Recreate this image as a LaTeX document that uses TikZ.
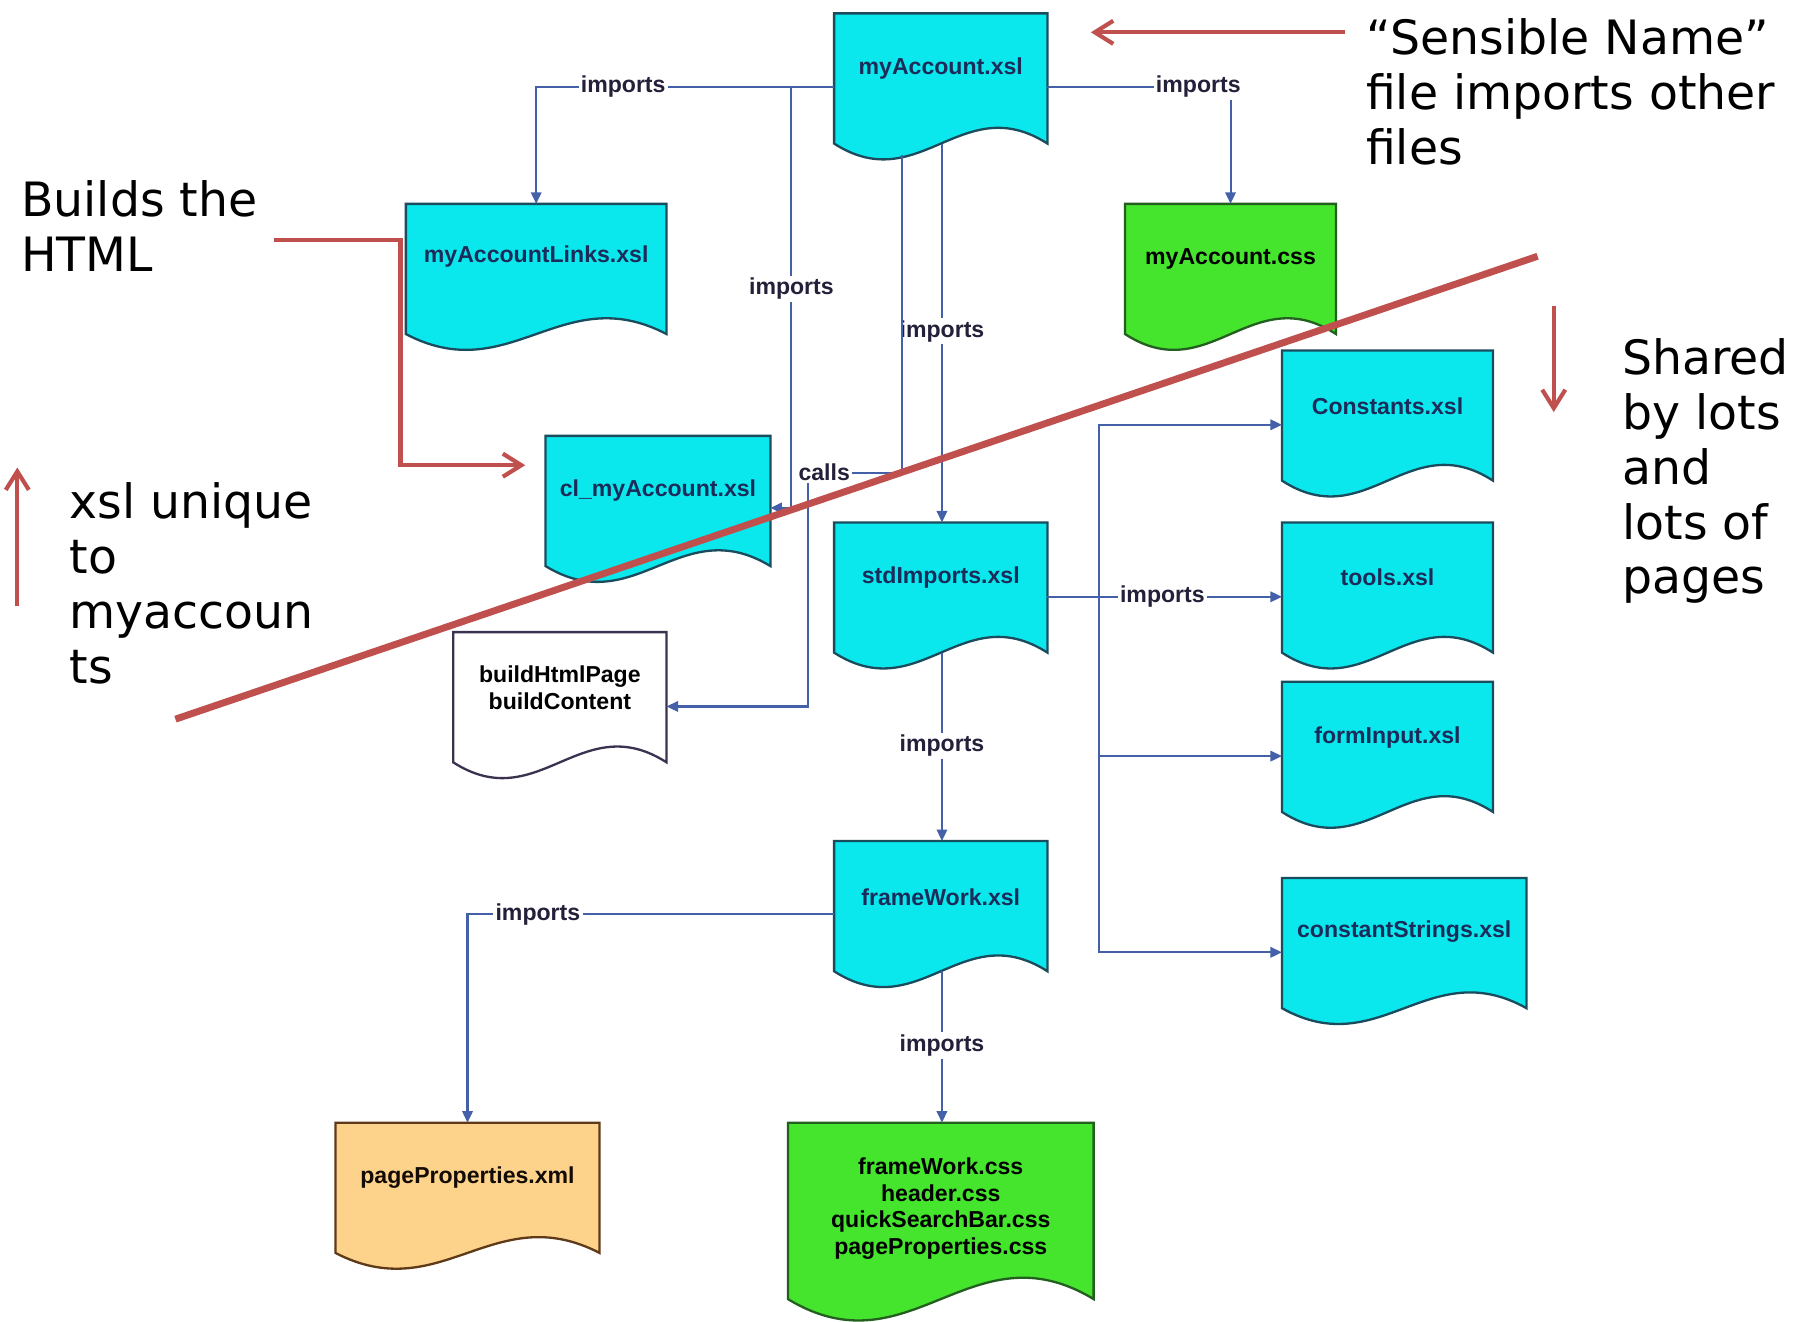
\documentclass[tikz,border=0pt]{standalone}
\usepackage{fontspec}
\setmainfont{DejaVu Sans}
\newfontfamily\arialfont{Liberation Sans}
\usetikzlibrary{arrows.meta,calc}
\definecolor{cyanbox}{HTML}{0AE8EE}
\definecolor{greenbox}{HTML}{45E52E}
\definecolor{orangebox}{HTML}{FDD28A}
\definecolor{cyanline}{HTML}{1B4C5E}
\definecolor{greenline}{HTML}{235F1E}
\definecolor{orangeline}{HTML}{5E3A18}
\definecolor{whiteline}{HTML}{3B3250}
\definecolor{connblue}{HTML}{4460A8}
\definecolor{annored}{HTML}{C0504D}
\definecolor{navytext}{HTML}{1B2B5A}
\definecolor{lbltext}{HTML}{24203A}

\newcommand\docpath[3]{%
 \filldraw[fill=#2, draw=#3, line width=1pt]
 let \p1=(#1.south west), \p2=(#1.north east) in
 (\x1,\y2) -- (\x2,\y2) -- (\x2,\y1)
 .. controls ({\x2-0.4*(\x2-\x1)},{\y1+0.42*(\y2-\y1)}) and ({\x1+0.4*(\x2-\x1)},{\y1-0.42*(\y2-\y1)}) .. (\x1,\y1) -- cycle;}

\tikzset{
 docbox/.style 2 args={rectangle, inner sep=0pt, minimum width={#1*0.5pt}, minimum height={#2*0.5pt}},
 btext/.style={font=\arialfont\bfseries\fontsize{10}{11.5}\selectfont, text=navytext, align=center, inner sep=0pt},
 conn/.style={draw=connblue, line width=0.9pt},
 arr/.style={conn, -{Triangle[length=5pt,width=4.5pt]}},
 lbl/.style={font=\arialfont\bfseries\fontsize{10}{12}\selectfont, text=lbltext, fill=white, inner sep=1pt},
 anno/.style={font=\fontsize{20.5}{23.75}\selectfont, align=left, anchor=north west, inner sep=0pt, text=black},
 redline/.style={draw=annored, line width=1.8pt},
 redarr/.style={redline, -{Straight Barb[length=8pt,width=10pt]}},
}

\begin{document}
\begin{tikzpicture}[x=0.5pt, y=-0.5pt]
\useasboundingbox (0,0) rectangle (1568,1145);
\fill[white] (0,0) rectangle (1568,1145);

% boxes
\node[docbox={184}{112}] (ma) at (815,68) {};
\node[docbox={225}{112}] (mal) at (464.5,233) {};
\node[docbox={182}{112}] (mcss) at (1066,233) {};
\node[docbox={194}{112}] (cl) at (570,434) {};
\node[docbox={184}{112}] (std) at (815,509) {};
\node[docbox={182}{112}] (con) at (1202,360) {};
\node[docbox={182}{112}] (tools) at (1202,509) {};
\node[docbox={182}{112}] (form) at (1202,647) {};
\node[docbox={211}{112}] (cstr) at (1216.5,817) {};
\node[docbox={184}{112}] (bhp) at (485,604) {};
\node[docbox={184}{112}] (fw) at (815,785) {};
\node[docbox={228}{112}] (pp) at (405,1029) {};
\node[docbox={264}{152}] (gcss) at (815,1049) {};

\docpath{ma}{cyanbox}{cyanline}
\docpath{mal}{cyanbox}{cyanline}
\docpath{mcss}{greenbox}{greenline}
\docpath{cl}{cyanbox}{cyanline}
\docpath{std}{cyanbox}{cyanline}
\docpath{con}{cyanbox}{cyanline}
\docpath{tools}{cyanbox}{cyanline}
\docpath{form}{cyanbox}{cyanline}
\docpath{cstr}{cyanbox}{cyanline}
\docpath{bhp}{white}{whiteline}
\docpath{fw}{cyanbox}{cyanline}
\docpath{pp}{orangebox}{orangeline}
\docpath{gcss}{greenbox}{greenline}

\node[btext] (ma-t) at ($(ma)+(0,-9)$) {myAccount.xsl};
\node[btext] (mal-t) at ($(mal)+(0,-11)$) {myAccountLinks.xsl};
\node[btext, text=black] (mcss-t) at ($(mcss)+(0,-9)$) {myAccount.css};
\node[btext] (cl-t) at ($(cl)+(0,-9)$) {cl\_myAccount.xsl};
\node[btext] (std-t) at ($(std)+(0,-9)$) {stdImports.xsl};
\node[btext] (con-t) at ($(con)+(0,-8)$) {Constants.xsl};
\node[btext] (tools-t) at ($(tools)+(0,-9)$) {tools.xsl};
\node[btext] (form-t) at ($(form)+(0,-8)$) {formInput.xsl};
\node[btext] (cstr-t) at ($(cstr)+(0,-10)$) {constantStrings.xsl};
\node[btext, text=black] (bhp-t) at ($(bhp)+(0,-8)$) {buildHtmlPage\\buildContent};
\node[btext] (fw-t) at ($(fw)+(0,-8)$) {frameWork.xsl};
\node[btext, text=black!80!orangeline] (pp-t) at ($(pp)+(0,-9)$) {pageProperties.xml};
\node[btext, text=black] (gcss-t) at ($(gcss)+(0,-2)$) {frameWork.css\\header.css\\quickSearchBar.css\\pageProperties.css};

% connectors
\draw[arr] ($(ma.west)+(0,7)$) -| (mal.north) node[lbl, pos=0.354] {imports};
\draw[arr] ($(ma.west)+(-37,7)$) |- ($(cl.east)+(0,6)$) node[lbl, pos=0.24] {imports};
\draw[arr] ($(ma.east)+(0,7)$) -| (mcss.north) node[lbl, pos=0.412] {imports};
\draw[arr] ($(ma.south)+(1,0)$) -- ($(std.north)+(1,0)$) node[lbl, pos=0.495] {imports};
\draw[conn] ($(ma.south)+(-34,10)$) |- (714,410);
\draw[arr] (700,410) |- ($(bhp.east)+(0,8)$);
\node[lbl] (callsl) at (714,409) {calls};
\draw[arr] ($(std.east)+(0,8)$) -- ($(tools.west)+(0,8)$) node[lbl, pos=0.49] {imports};
\coordinate (bus) at ($(std.east)+(45,8)$);
\draw[arr] (bus) |- ($(con.west)+(0,8)$);
\draw[arr] (bus) |- ($(form.west)+(0,8)$);
\draw[arr] (bus) |- ($(cstr.west)+(0,8)$);
\draw[arr] ($(std.south)+(1,0)$) -- ($(fw.north)+(1,0)$) node[lbl, pos=0.494] {imports};
\draw[arr] ($(fw.west)+(0,7)$) -| (pp.north) node[lbl, pos=0.404] {imports};
\draw[arr] ($(fw.south)+(1,0)$) -- ($(gcss.north)+(1,0)$) node[lbl, pos=0.49] {imports};

% annotations
\node[anno] (sens) at (1183,16) {“Sensible Name”\\file imports other\\files};
\node[anno] (builds) at (18,156) {Builds the\\HTML};
\node[anno] (uniq) at (60,418) {xsl unique\\to\\myaccoun\\ts};
\node[anno] (shared) at (1405,293) {Shared\\by lots\\and\\lots of\\pages};

\coordinate (sensA) at (1165,28);
\coordinate (sensB) at (945,28);
\draw[redarr] (sensA) -- (sensB);
\coordinate (buildA) at (237,208);
\coordinate (buildB) at (455,403);
\draw[redarr] (buildA) -| (347,403) -- (buildB);
\coordinate (uniqA) at (15,525);
\coordinate (uniqB) at (15,405);
\draw[redarr] (uniqA) -- (uniqB);
\coordinate (sharA) at (1346,265);
\coordinate (sharB) at (1346,357);
\draw[redarr] (sharA) -- (sharB);
\coordinate (diagA) at (152,623);
\coordinate (diagB) at (1332,222);
\draw[annored, line width=3pt] (diagA) -- (diagB);
\end{tikzpicture}
\end{document}
